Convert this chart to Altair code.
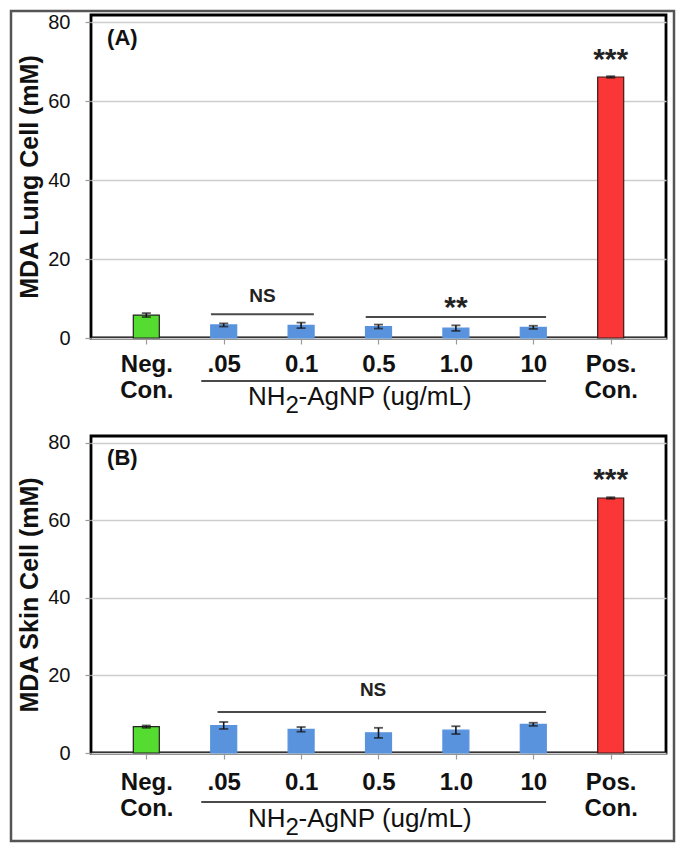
import json
import altair as alt
import pandas as pd

# ---------------- data ----------------
categories = ["Neg. Con.", ".05", "0.1", "0.5", "1.0", "10", "Pos. Con."]
groups = ["neg", "np", "np", "np", "np", "np", "pos"]

lung_mean = [5.8, 3.3, 3.2, 2.9, 2.5, 2.7, 66.1]
lung_err = [0.5, 0.4, 0.7, 0.5, 0.7, 0.4, 0.2]

skin_mean = [6.8, 7.1, 6.1, 5.2, 5.9, 7.4, 65.8]
skin_err = [0.3, 0.9, 0.6, 1.3, 1.0, 0.4, 0.2]

# significance annotations: (x start, x end, line value, label, label x, label value)
lung_brackets = [(0.835, 2.165, 6.0, "NS", 1.5, 9.0), (2.835, 5.165, 5.3, "**", 4.0, 5.2)]
skin_brackets = [(0.92, 5.165, 10.6, "NS", 2.93, 14.6)]
star_value = 68.0

# ---------------- styling ----------------
FONT = "Liberation Sans"
GREEN, BLUE, RED = "#55dc30", "#5a93dd", "#fb3636"
W = 575
X_DOMAIN = [-0.65, 6.65]
Y_DOMAIN = [0, 81.8]
HA, HB = 323, 317
TOP_A = 14          # plot top of panel A on the page
FIG_BOTTOM = 840    # bottom of the outer figure frame on the page

label_lines = [c.split(" ") for c in categories]
label_expr = json.dumps(label_lines) + "[datum.value]"


def panel(means, errs, ytitle, tag, brackets, H, lab_pad, line_dy, title_dy, with_frame):
    df = pd.DataFrame({
        "pos": list(range(len(categories))),
        "cat": categories,
        "group": groups,
        "mean": means,
        "err": errs,
    })
    x_scale = alt.Scale(domain=X_DOMAIN, nice=False, zero=False)
    y_scale = alt.Scale(domain=Y_DOMAIN, nice=False)

    x_axis = alt.Axis(
        values=list(range(len(categories))), labelExpr=label_expr, title=None,
        grid=False, domain=False, ticks=True, tickSize=6, tickColor="#9a9a9a",
        tickWidth=1.2, labelFont=FONT, labelFontSize=24, labelFontWeight="bold",
        labelColor="#111", labelPadding=lab_pad, labelLineHeight=26,
        labelOverlap=False, labelFlush=False, labelBaseline="top",
    )
    y_axis = alt.Axis(
        values=[0, 20, 40, 60, 80], title=ytitle, grid=True, gridColor="#cdcdcd",
        gridWidth=1.6, domain=False, ticks=True, tickSize=6, tickColor="#9a9a9a",
        tickWidth=1.2, labelFont=FONT, labelFontSize=20, labelColor="#111",
        labelPadding=15, labelFlush=False, titleFont=FONT, titleFontSize=25,
        titleFontWeight="bold", titleColor="#111", titlePadding=5,
    )

    base = alt.Chart(df)
    bars = base.mark_bar(size=26, orient="vertical", strokeWidth=1.2).encode(
        x=alt.X("pos:Q", scale=x_scale, axis=x_axis),
        y=alt.Y("mean:Q", scale=y_scale, axis=y_axis),
        color=alt.Color("group:N", scale=alt.Scale(domain=["neg", "np", "pos"],
                        range=[GREEN, BLUE, RED]), legend=None),
        stroke=alt.Stroke("group:N", scale=alt.Scale(domain=["neg", "np", "pos"],
                          range=["#222222", BLUE, "#3a1a1a"]), legend=None),
    )
    err = base.transform_calculate(
        lo="datum.mean - datum.err", hi="datum.mean + datum.err"
    )
    err_rule = err.mark_rule(color="#151515", strokeWidth=1.6).encode(
        x="pos:Q", y="lo:Q", y2="hi:Q")
    cap_lo = err.mark_tick(orient="horizontal", size=9, thickness=1.8, color="#151515").encode(
        x="pos:Q", y="lo:Q")
    cap_hi = err.mark_tick(orient="horizontal", size=9, thickness=1.8, color="#151515").encode(
        x="pos:Q", y="hi:Q")

    bdf = pd.DataFrame(brackets, columns=["x1", "x2", "y", "label", "tx", "ty"])
    br_rule = alt.Chart(bdf).mark_rule(color="#4a4a4a", strokeWidth=2).encode(
        x="x1:Q", x2="x2:Q", y="y:Q")
    br_text = alt.Chart(bdf).mark_text(
        font=FONT, fontWeight="bold", fontSize=19, color="#222", baseline="alphabetic"
    ).encode(
        x="tx:Q", y="ty:Q", text="label:N",
        size=alt.condition("datum.label == 'NS'", alt.value(19), alt.value(30)),
    )

    stars = alt.Chart(pd.DataFrame({"x": [6], "y": [star_value], "t": ["***"]})).mark_text(
        font=FONT, fontWeight="bold", fontSize=30, color="#222", baseline="alphabetic"
    ).encode(x="x:Q", y="y:Q", text="t:N")

    tagc = alt.Chart(pd.DataFrame({"x": [-0.31], "y": [76.0], "t": [tag]})).mark_text(
        font=FONT, fontWeight="bold", fontSize=22, color="#111", baseline="middle"
    ).encode(x="x:Q", y="y:Q", text="t:N")

    # line and label under the AgNP concentrations
    under = alt.Chart(pd.DataFrame({"x1": [0.71], "x2": [5.165]})).mark_rule(
        color="#4a4a4a", strokeWidth=2
    ).encode(x="x1:Q", x2="x2:Q", y=alt.value(H + line_dy))
    anchor = pd.DataFrame({"x": [1.8]})
    t_nh = alt.Chart(anchor).mark_text(
        font=FONT, fontSize=26, color="#111", align="right", baseline="alphabetic"
    ).encode(x="x:Q", y=alt.value(H + title_dy), text=alt.value("NH"))
    t_2 = alt.Chart(anchor).mark_text(
        font=FONT, fontSize=24, color="#111", align="left", baseline="alphabetic", dx=0, dy=8
    ).encode(x="x:Q", y=alt.value(H + title_dy), text=alt.value("2"))
    t_rest = alt.Chart(anchor).mark_text(
        font=FONT, fontSize=26, color="#111", align="left", baseline="alphabetic", dx=13
    ).encode(x="x:Q", y=alt.value(H + title_dy), text=alt.value("-AgNP (ug/mL)"))

    layers = [bars, err_rule, cap_lo, cap_hi, br_rule, br_text, stars, tagc,
              under, t_nh, t_2, t_rest]
    if with_frame:
        # one outer frame around the whole figure
        frame = alt.Chart(anchor).mark_rect(
            fillOpacity=0, stroke="#555", strokeWidth=2.5
        ).encode(
            x=alt.value(-80), x2=alt.value(W + 8),
            y=alt.value(-4), y2=alt.value(FIG_BOTTOM - TOP_A),
        )
        layers.append(frame)
    return alt.layer(*layers).properties(width=W, height=H)


pa = panel(lung_mean, lung_err, "MDA Lung Cell (mM)", "(A)", lung_brackets,
           HA, 8, 43, 67, True)
pb = panel(skin_mean, skin_err, "MDA Skin Cell (mM)", "(B)", skin_brackets,
           HB, 11, 49, 74, False)

chart = alt.vconcat(pa, pb, spacing=98, bounds="flush").properties(
    padding=0, background="white"
).configure_view(stroke="#000", strokeWidth=2.8)

chart.save("out.html", embed_options={"renderer": "svg", "actions": False})
